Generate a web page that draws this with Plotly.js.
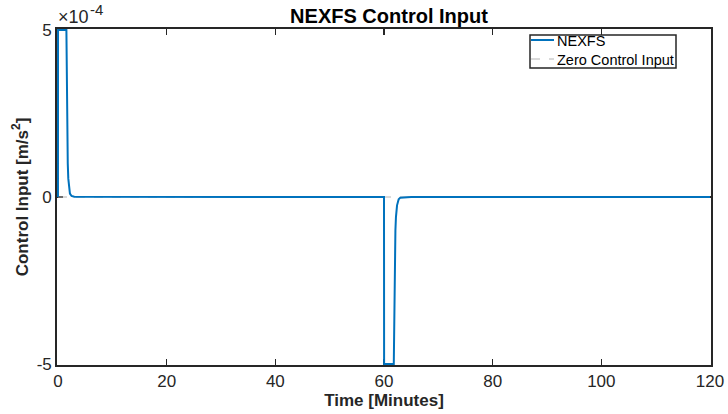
<!DOCTYPE html>
<html>
<head>
<meta charset="utf-8">
<script src="https://cdn.plot.ly/plotly-3.0.1.min.js"></script>
<style>html,body{margin:0;padding:0;background:#fff;}#chart{width:728px;height:414px;}</style>
</head>
<body>
<div id="chart"></div>
<script>
// Time in minutes
const timeMin = [0, 0.01, 1.55, 1.6, 1.65, 1.7, 1.8, 1.9, 2.0, 2.2, 2.5, 3.0, 60.0, 60.02, 61.8, 61.85, 61.9, 62.0, 62.1, 62.2, 62.4, 62.7, 63.0, 65.0, 120];
// Control input in m/s^2
const controlInput = [0, 5e-4, 5e-4, 4.0e-4, 2.8e-4, 1.9e-4, 1.0e-4, 0.55e-4, 0.3e-4, 0.1e-4, 0.03e-4, 0.005e-4, 0, -5e-4, -5e-4, -4e-4, -3e-4, -1.8e-4, -1.0e-4, -0.6e-4, -0.25e-4, -0.07e-4, -0.02e-4, 0, 0];
const zeroTime = [0, 120];
const zeroInput = [0, 0];
const yTickVals = [-5e-4, 0, 5e-4];
const yTickText = ["-5", "0", "5"];
const xTickVals = [0, 20, 40, 60, 80, 100, 120];
const seriesNames = ["NEXFS", "Zero Control Input"];

const axisColor = '#262626';
const W = 728, H = 414, L = 57, R = 711, T = 29, B = 365;
const px = v => (v - L) / (R - L);
const py = v => (B - v) / (B - T);

const traces = [
  {x: zeroTime, y: zeroInput, mode: 'lines', name: seriesNames[1], showlegend: false,
   line: {color: '#b4b4b4', width: 1, dash: 'dash'}},
  {x: timeMin, y: controlInput, mode: 'lines', name: seriesNames[0], showlegend: false,
   line: {color: '#0072BD', width: 2}}
];

// legend drawn as box + samples + real text labels
const shapes = [
  {type: 'rect', xref: 'paper', yref: 'paper', x0: px(530), x1: px(676), y0: py(68), y1: py(35),
   fillcolor: '#fff', line: {color: axisColor, width: 1.5}, layer: 'above'},
  {type: 'line', xref: 'paper', yref: 'paper', x0: px(531), x1: px(554), y0: py(40), y1: py(40),
   line: {color: '#0072BD', width: 2}, layer: 'above'},
  {type: 'line', xref: 'paper', yref: 'paper', x0: px(531), x1: px(554), y0: py(59), y1: py(59),
   line: {color: '#b4b4b4', width: 1, dash: 'dash'}, layer: 'above'}
];

const annotations = [
  {text: '×10', xref: 'paper', yref: 'paper', x: px(56), y: py(17), xanchor: 'left', yanchor: 'middle',
   showarrow: false, font: {size: 18, color: axisColor}},
  {text: '-4', xref: 'paper', yref: 'paper', x: px(88), y: py(10), xanchor: 'left', yanchor: 'middle',
   showarrow: false, font: {size: 15, color: axisColor}},
  {text: seriesNames[0], xref: 'paper', yref: 'paper', x: px(555), y: py(41), xanchor: 'left', yanchor: 'middle',
   showarrow: false, font: {size: 14.5, color: '#000'}},
  {text: seriesNames[1], xref: 'paper', yref: 'paper', x: px(555), y: py(60), xanchor: 'left', yanchor: 'middle',
   showarrow: false, font: {size: 14.5, color: '#000'}}
];

const layout = {
  width: W, height: H,
  margin: {l: L, r: W - R, t: T, b: H - B},
  paper_bgcolor: '#fff', plot_bgcolor: '#fff',
  font: {family: 'Liberation Sans, Arial, sans-serif', color: axisColor},
  showlegend: false,
  title: {text: '<b>NEXFS Control Input</b>', x: px(389), xref: 'paper', xanchor: 'center', y: 1 - 16 / H, yref: 'container', yanchor: 'middle',
          font: {size: 20, color: '#000'}},
  xaxis: {range: [-0.18, 120.18], tickvals: xTickVals, ticks: 'inside', ticklen: 6, tickwidth: 1.3, tickcolor: axisColor,
          showline: true, linecolor: axisColor, linewidth: 1.8, mirror: 'ticks', showgrid: false, zeroline: false,
          tickfont: {size: 17, color: axisColor}, layer: 'below traces',
          title: {text: '<b>Time [Minutes]</b>', font: {size: 17, color: axisColor}, standoff: 2}},
  yaxis: {range: [-5.03e-4, 5.03e-4], tickvals: yTickVals, ticktext: yTickText, ticks: 'inside', ticklen: 6, tickwidth: 1.3, tickcolor: axisColor,
          showline: true, linecolor: axisColor, linewidth: 1.8, mirror: 'ticks', showgrid: false, zeroline: false,
          tickfont: {size: 17, color: axisColor}, layer: 'below traces',
          title: {text: '<b>Control Input [m/s<sup>2</sup>]</b>', font: {size: 17, color: axisColor}, standoff: 4}},
  shapes: shapes,
  annotations: annotations
};
Plotly.newPlot('chart', traces, layout, {displayModeBar: false, staticPlot: true});
</script>
</body>
</html>
